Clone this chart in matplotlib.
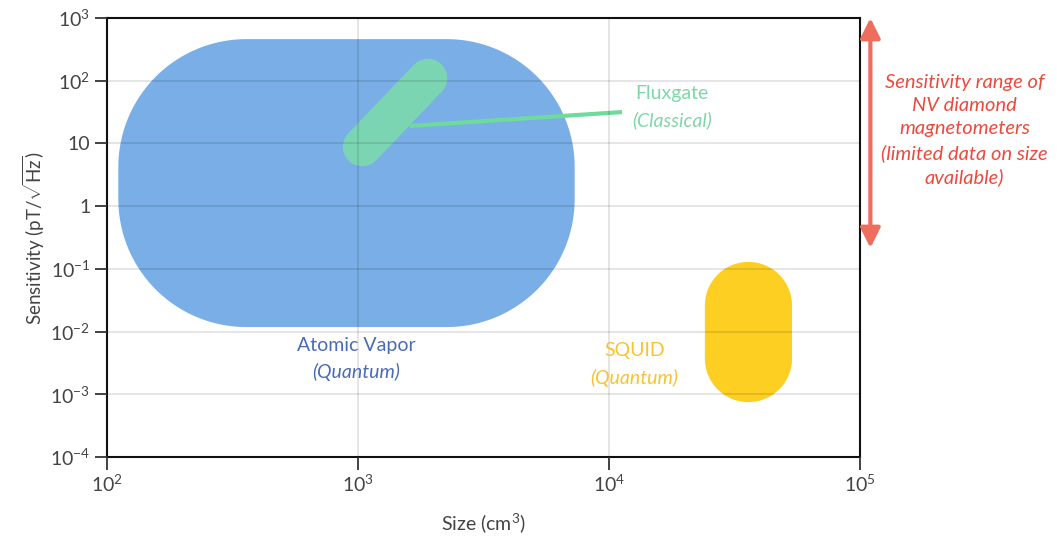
import numpy as np
import matplotlib.pyplot as plt
from matplotlib.ticker import NullLocator

plt.rcParams['font.family'] = ['Lato', 'DejaVu Sans']
plt.rcParams['mathtext.fontset'] = 'custom'
plt.rcParams['mathtext.rm'] = 'Lato'
plt.rcParams['mathtext.it'] = 'Lato:italic'

# Size (cm^3) and sensitivity (pT/sqrt(Hz)) ranges of each sensor class
atomic_size = [111, 7300]
atomic_sens = [0.0118, 460]
squid_size = [24100, 53600]
squid_sens = [0.00075, 0.129]
fluxgate_size = [1040, 1900]
fluxgate_sens = [8.8, 110]
nv_sens = [0.215, 1000]
nv_size = 1.1e5

x_ticks = [1e2, 1e3, 1e4, 1e5]
x_labels = ['$10^{2}$', '$10^{3}$', '$10^{4}$', '$10^{5}$']
y_ticks = [1e-4, 1e-3, 1e-2, 1e-1, 1, 10, 1e2, 1e3]
y_labels = ['$10^{-4}$', '$10^{-3}$', '$10^{-2}$', '$10^{-1}$', '1', '10',
            '$10^{2}$', '$10^{3}$']


def rounded_box(xr, yr, rx, ry, n=60):
    # rounded rectangle built in log space (corner radii in decades)
    x0, x1 = np.log10(xr)
    y0, y1 = np.log10(yr)
    t = np.linspace(0, np.pi / 2, n)
    corners = [(x1 - rx, y1 - ry, 0), (x0 + rx, y1 - ry, np.pi / 2),
               (x0 + rx, y0 + ry, np.pi), (x1 - rx, y0 + ry, 3 * np.pi / 2)]
    px, py = [], []
    for cx, cy, a in corners:
        px.extend(cx + rx * np.cos(t + a))
        py.extend(cy + ry * np.sin(t + a))
    return 10 ** np.array(px), 10 ** np.array(py)


fig = plt.figure(figsize=(10.6, 5.4), dpi=100)
ax = fig.add_axes([0.1009, 0.1537, 0.7104, 0.8130])
ax.set_xscale('log')
ax.set_yscale('log')
ax.set_xlim(1e2, 1e5)
ax.set_ylim(1e-4, 1e3)

# Atomic vapor region
bx, by = rounded_box(atomic_size, atomic_sens, 0.51, 2.04)
ax.fill(bx, by, color='#79aee6', lw=0, zorder=1)

# SQUID region
half_w = (np.log10(squid_size[1]) - np.log10(squid_size[0])) / 2
sx, sy = rounded_box(squid_size, squid_sens, half_w, 0.694)
ax.fill(sx, sy, color='#fdcf22', lw=0, zorder=1)

# Fluxgate band
ax.plot(fluxgate_size, fluxgate_sens, color='#7bd5b3', lw=28,
        solid_capstyle='round', zorder=1.5)
ax.plot([1610, 11270], [19, 31.6], color='#6edb9c', lw=3,
        solid_capstyle='butt', zorder=1.6)

# Labels
fs = 14
ax.text(982, 0.0059, 'Atomic Vapor', color='#4a6cb8', fontsize=fs,
        ha='center', va='center')
ax.text(982, 0.00226, '(Quantum)', color='#4a6cb8', fontsize=fs,
        style='italic', ha='center', va='center')
ax.text(12600, 0.00507, 'SQUID', color='#f8c32e', fontsize=fs,
        ha='center', va='center')
ax.text(12600, 0.00181, '(Quantum)', color='#f8c32e', fontsize=fs,
        style='italic', ha='center', va='center')
ax.text(17800, 61.4, 'Fluxgate', color='#7dd8a8', fontsize=fs,
        ha='center', va='center')
ax.text(17800, 23.6, '(Classical)', color='#7dd8a8', fontsize=fs,
        style='italic', ha='center', va='center')

# NV diamond sensitivity range
ax.annotate('', xy=(nv_size, nv_sens[1]), xytext=(nv_size, nv_sens[0]),
            annotation_clip=False,
            arrowprops=dict(arrowstyle='<|-|>,head_length=0.6,head_width=0.3',
                            mutation_scale=20, color='#ee6e5e', lw=3,
                            shrinkA=0, shrinkB=0))
fig.text(0.910, 0.759, 'Sensitivity range of\nNV diamond\nmagnetometers\n'
         '(limited data on size\navailable)', color='#ec4a3c', fontsize=14.5,
         style='italic', ha='center', va='center', linespacing=1.45)

ax.set_xticks(x_ticks, x_labels)
ax.set_yticks(y_ticks, y_labels)
ax.xaxis.set_minor_locator(NullLocator())
ax.yaxis.set_minor_locator(NullLocator())
ax.tick_params(axis='both', direction='out', length=9, width=1.3,
               labelsize=14, colors='#333333', labelcolor='#444444', pad=3)

ax.grid(True, color='black', alpha=0.12, lw=1.2)
ax.set_axisbelow(False)
for s in ax.spines.values():
    s.set_linewidth(1.5)
    s.set_color('#111111')

ax.set_xlabel('Size (cm$^{3}$)', fontsize=14, color='#444444', labelpad=12)
ax.set_ylabel(r'Sensitivity (pT/$\sqrt{\mathrm{Hz}}$)', fontsize=13.5,
              color='#444444', labelpad=2)

fig.savefig('out.png', dpi=100)
